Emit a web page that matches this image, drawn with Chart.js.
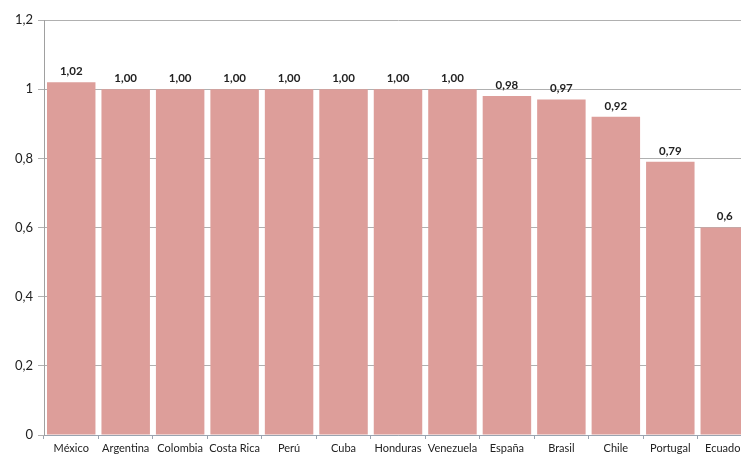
<!DOCTYPE html>
<html>
<head>
<meta charset="utf-8">
<script src="https://cdn.jsdelivr.net/npm/chart.js@4/dist/chart.umd.min.js"></script>
<style>
  html, body { margin: 0; padding: 0; background: #fff; overflow: hidden; }
  #wrap { width: 752px; height: 457px; }
</style>
</head>
<body>
<div id="wrap"><canvas id="c" width="752" height="457"></canvas></div>
<script>
const countries = ['México','Argentina','Colombia','Costa Rica','Perú','Cuba','Honduras','Venezuela','España','Brasil','Chile','Portugal','Ecuador'];
const values = [1.02, 1.00, 1.00, 1.00, 1.00, 1.00, 1.00, 1.00, 0.98, 0.97, 0.92, 0.79, 0.6];
const valueLabels = ['1,02','1,00','1,00','1,00','1,00','1,00','1,00','1,00','0,98','0,97','0,92','0,79','0,6'];

const FONT = 'Lato, "Open Sans", sans-serif';

const barLabels = {
  id: 'barLabels',
  afterDatasetsDraw(chart) {
    const ctx = chart.ctx;
    const meta = chart.getDatasetMeta(0);
    ctx.save();
    ctx.font = 'bold 11.5px ' + FONT;
    ctx.fillStyle = '#222';
    ctx.textAlign = 'center';
    ctx.textBaseline = 'bottom';
    meta.data.forEach((bar, i) => {
      ctx.fillText(valueLabels[i], bar.x, bar.y - 5);
    });
    ctx.restore();
  }
};

new Chart(document.getElementById('c'), {
  type: 'bar',
  plugins: [barLabels],
  data: {
    labels: countries,
    datasets: [{
      data: values,
      backgroundColor: '#dd9e9a',
      borderWidth: 0,
      categoryPercentage: 0.89,
      barPercentage: 1
    }]
  },
  options: {
    responsive: false,
    animation: false,
    layout: { padding: { top: 20, right: 0, bottom: 0, left: 0 } },
    plugins: { legend: { display: false }, tooltip: { enabled: false } },
    scales: {
      x: {
        grid: { offset: true, drawOnChartArea: false, drawTicks: true, tickLength: 4, color: '#9aa4b0' },
        border: { color: '#9aa4b0' },
        ticks: { color: '#222', font: { family: FONT, size: 11 }, maxRotation: 0, autoSkip: false, padding: 3 },
        afterFit(scale) { scale.height = 22; }
      },
      y: {
        min: 0, max: 1.2,
        grid: { color: '#b0b0b0', tickLength: 6 },
        border: { color: '#a0a0a0' },
        ticks: {
          stepSize: 0.2, color: '#222', font: { family: FONT, size: 13 }, padding: 5,
          callback: v => String(Math.round(v * 10) / 10).replace('.', ',')
        },
        afterFit(scale) { scale.width = 44; }
      }
    }
  }
});
</script>
</body>
</html>
